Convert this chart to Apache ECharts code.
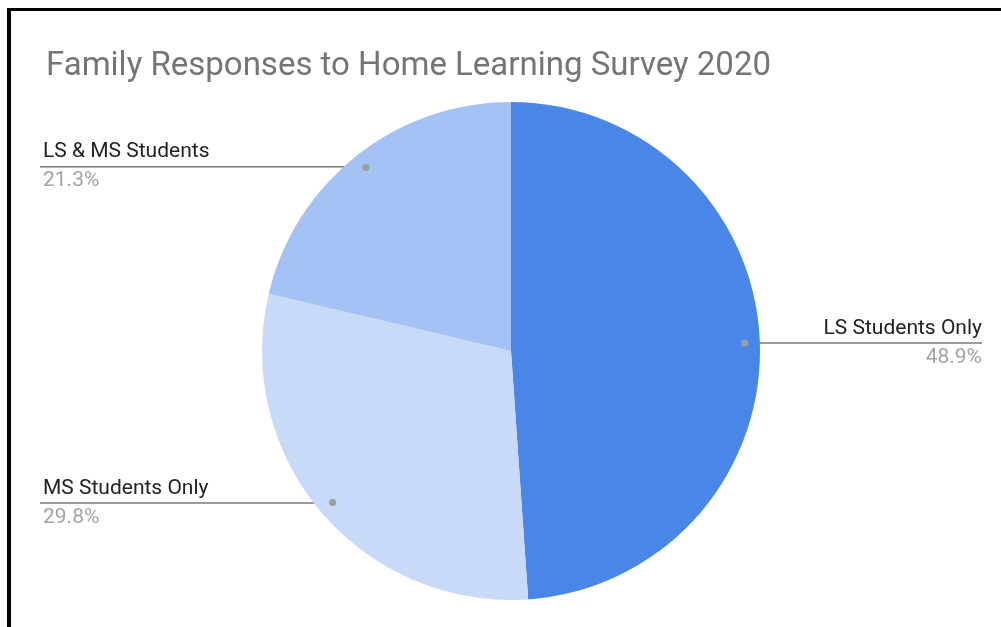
<!DOCTYPE html>
<html>
<head>
<meta charset="utf-8">
<title>Family Responses to Home Learning Survey 2020</title>
<script src="https://cdn.jsdelivr.net/npm/echarts@6/dist/echarts.min.js"></script>
<style>
  html, body { margin: 0; padding: 0; background: #fff; overflow: hidden; }
  #frame {
    position: absolute; left: 7px; top: 8px; width: 1200px; height: 800px;
    border-left: 4px solid #000; border-top: 3px solid #000; box-sizing: border-box;
  }
  #chart { position: absolute; left: 0; top: 0; width: 1001px; height: 627px; }
</style>
</head>
<body>
<div id="frame"></div>
<div id="chart"></div>
<script>
// Survey responses, share of families (%)
const categories = ['LS Students Only', 'MS Students Only', 'LS & MS Students'];
const shares = [48.9, 29.8, 21.3];
const colors = ['#4a86e8', '#c9daf8', '#a4c2f4'];

const CENTER = [511, 351];
const RADIUS = 249;
const DOT_RADIUS = 235;      // where each leader line starts, inside the slice
const LEFT_EDGE = 40;        // end of left-hand leader lines
const RIGHT_EDGE = 982;      // end of right-hand leader lines

const pieData = categories.map((name, i) => ({
  name: name,
  value: shares[i],
  itemStyle: { color: colors[i] }
}));

const chart = echarts.init(document.getElementById('chart'), null, { renderer: 'canvas' });

chart.setOption({
  animation: false,
  backgroundColor: 'transparent',
  title: {
    text: 'Family Responses to Home Learning Survey 2020',
    left: 41,
    top: 45,
    textStyle: {
      fontFamily: 'Roboto',
      fontSize: 33,
      fontWeight: 'normal',
      color: '#757575'
    }
  },
  series: [
    {
      type: 'pie',
      center: CENTER,
      radius: RADIUS,
      startAngle: 90,
      clockwise: true,
      avoidLabelOverlap: false,
      silent: true,
      data: pieData,
      itemStyle: { borderWidth: 0 },
      label: {
        show: true,
        position: 'outside',
        formatter: p => '{n|' + p.name + '}\n{p|' + p.percent.toFixed(1) + '%}',
        rich: {
          n: { fontFamily: 'Roboto', fontSize: 21, color: '#222222', lineHeight: 29 },
          p: { fontFamily: 'Roboto', fontSize: 21, color: '#a3a3a3', lineHeight: 29 }
        }
      },
      labelLine: {
        show: true,
        length: 10,
        length2: 10,
        lineStyle: { color: '#7a7a7a', width: 1.5 }
      },
      labelLayout: function (params) {
        const pts = params.labelLinePoints;
        if (!pts) return {};
        const p0 = pts[0], p1 = pts[1];
        const dx = p1[0] - p0[0], dy = p1[1] - p0[1];
        const len = Math.sqrt(dx * dx + dy * dy) || 1;
        const back = RADIUS - DOT_RADIUS;
        const sx = p0[0] - dx / len * back;
        const sy = p0[1] - dy / len * back;
        const right = sx > CENTER[0];
        const ex = right ? RIGHT_EDGE : LEFT_EDGE;
        return {
          x: right ? RIGHT_EDGE : LEFT_EDGE + 3,
          y: sy,
          align: right ? 'right' : 'left',
          verticalAlign: 'middle',
          labelLinePoints: [[sx, sy], [(sx + ex) / 2, sy], [ex, sy]]
        };
      }
    },
    {
      // small markers where the leader lines begin
      type: 'pie',
      center: CENTER,
      radius: [DOT_RADIUS - 7, DOT_RADIUS - 1],
      startAngle: 90,
      clockwise: true,
      silent: true,
      z: 5,
      data: categories.map((name, i) => ({ name: name, value: shares[i] })),
      itemStyle: { color: 'rgba(0,0,0,0)', borderWidth: 0 },
      label: {
        show: true,
        position: 'inside',
        formatter: '{d| }',
        rich: {
          d: { width: 7, height: 7, borderRadius: 3.5, backgroundColor: '#9e9e9e', fontSize: 1, lineHeight: 7 }
        }
      },
      labelLine: { show: false }
    }
  ]
});
</script>
</body>
</html>
